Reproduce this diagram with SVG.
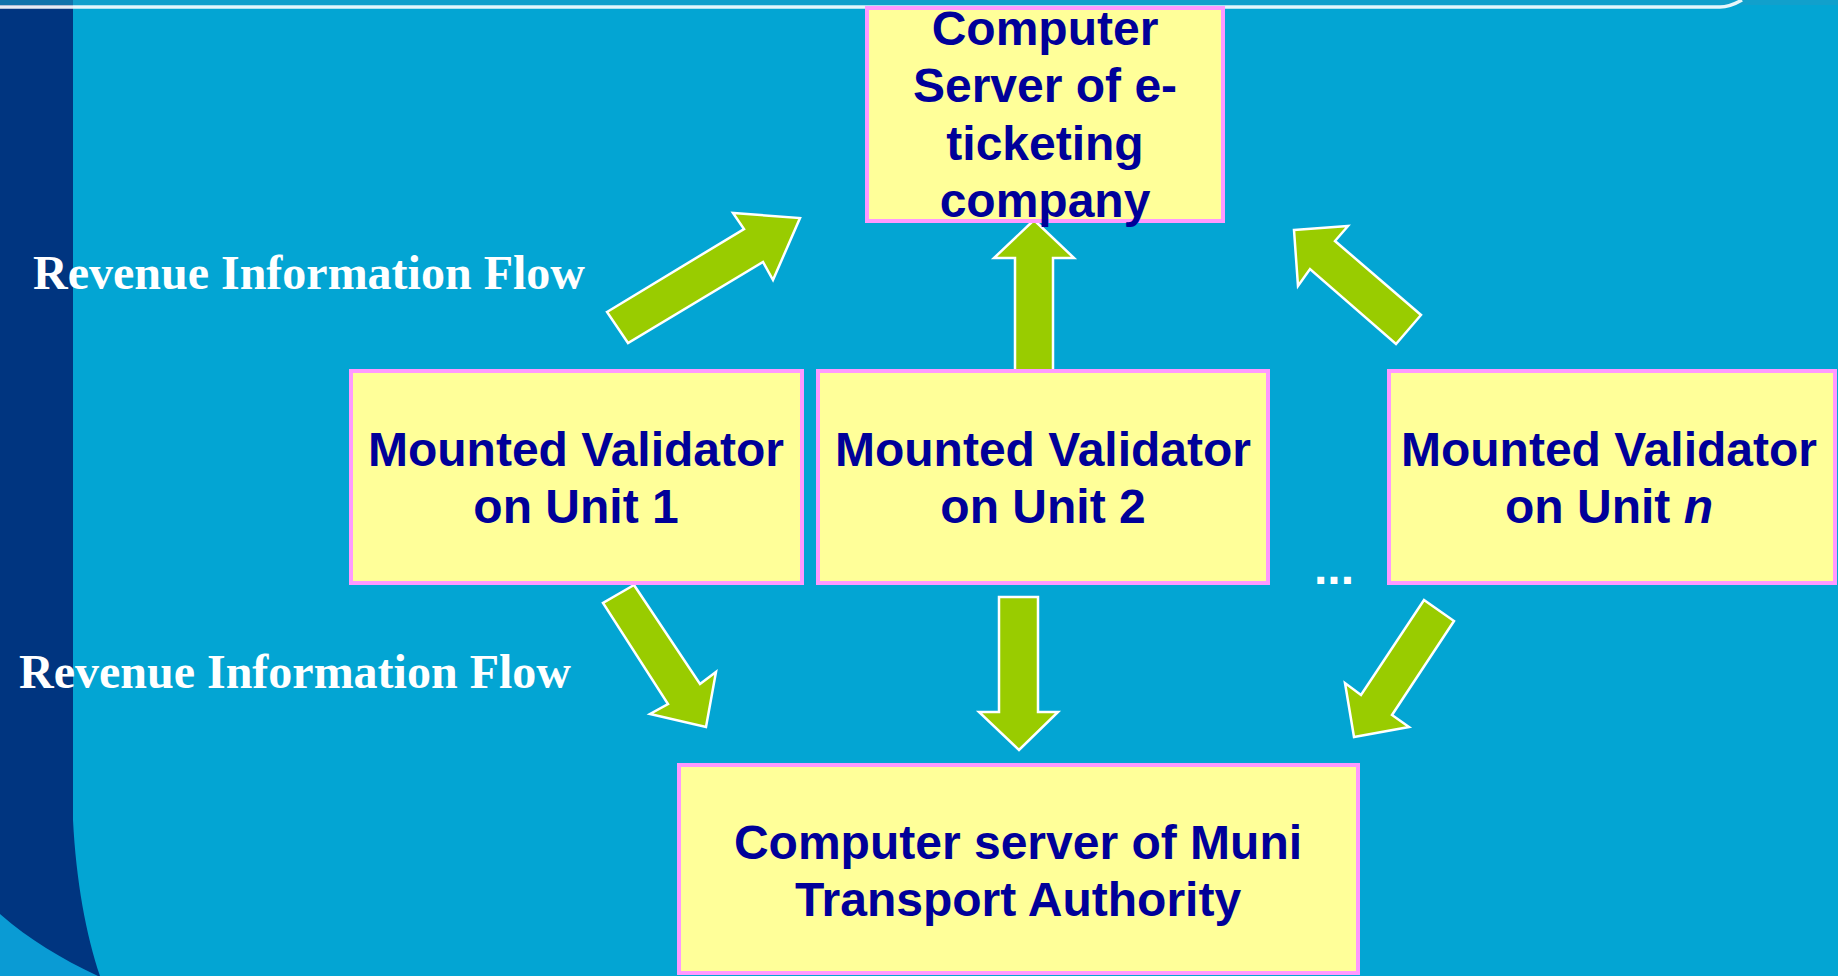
<svg xmlns="http://www.w3.org/2000/svg" width="1838" height="976" viewBox="0 0 1838 976">
  <defs>
    <style>
      .box { fill: #FFFF99; stroke: #FF99FF; stroke-width: 4; }
      .lbl { font-family: "Liberation Sans", Arial, sans-serif; font-weight: bold; font-size: 48px; fill: #000099; text-anchor: middle; }
      .flow { font-family: "Liberation Serif", "Times New Roman", serif; font-weight: bold; font-size: 48px; fill: #FFFFFF; }
      .arrow { fill: #99CC00; stroke: #FFFFFF; stroke-width: 2.5; stroke-linejoin: miter; }
    </style>
  </defs>

  <!-- background -->
  <rect x="0" y="0" width="1838" height="976" fill="#03A5D3"/>
  <path d="M0,0 H73 V820 C76,880 86,935 100,976 H0 Z" fill="#003580"/>
  <path d="M0,914 C30,940 60,958 98,976 H0 Z" fill="#0A9BD4"/>
  <rect x="0" y="0" width="1838" height="5" fill="#1A9CC8" opacity="0.6"/>
  <path d="M0,7 H1720 C1728,7 1735,4 1742,0" fill="none" stroke="#FFFFFF" stroke-width="3.5" opacity="0.9"/>

  <!-- connectors -->
  <g id="connectors">
    <polygon class="arrow" points="607,312 744,229 733,213 800,218 773,280 763,262 628,343"/>
    <polygon class="arrow" points="1034,220 1074,258 1053,258 1053,371 1015,371 1015,258 994,258"/>
    <polygon class="arrow" points="1294,230 1348,226 1335,241 1421,315 1396,344 1310,269 1298,286"/>
    <polygon class="arrow" points="634,585 603,603 668,704 650,714 706,727 716,672 700,684"/>
    <polygon class="arrow" points="999,597 1038,597 1038,712 1058,712 1019,750 979,712 999,712"/>
    <polygon class="arrow" points="1424,600 1454,621 1392,715 1409,727 1354,737 1345,683 1361,695"/>
  </g>

  <!-- nodes -->
  <g id="eticketing-server">
    <rect class="box" x="867" y="8" width="356" height="213"/>
    <text class="lbl" x="1045" y="45">Computer</text>
    <text class="lbl" x="1045" y="102">Server of e-</text>
    <text class="lbl" x="1045" y="160">ticketing</text>
    <text class="lbl" x="1045" y="217">company</text>
  </g>

  <g id="validator-1">
    <rect class="box" x="351" y="371" width="451" height="212"/>
    <text class="lbl" x="576" y="466">Mounted Validator</text>
    <text class="lbl" x="576" y="523">on Unit 1</text>
  </g>

  <g id="validator-2">
    <rect class="box" x="818" y="371" width="450" height="212"/>
    <text class="lbl" x="1043" y="466">Mounted Validator</text>
    <text class="lbl" x="1043" y="523">on Unit 2</text>
  </g>

  <g id="validator-n">
    <rect class="box" x="1389" y="371" width="446" height="212"/>
    <text class="lbl" x="1609" y="466">Mounted Validator</text>
    <text class="lbl" x="1609" y="523">on Unit <tspan font-style="italic">n</tspan></text>
  </g>

  <g id="ellipsis">
    <text x="1314" y="584" font-family="Liberation Sans, Arial, sans-serif" font-weight="bold" font-size="48" fill="#FFFFFF">...</text>
  </g>

  <g id="muni-server">
    <rect class="box" x="679" y="765" width="679" height="208"/>
    <text class="lbl" x="1018" y="859">Computer server of Muni</text>
    <text class="lbl" x="1018" y="916">Transport Authority</text>
  </g>

  <g id="flow-labels">
    <text class="flow" x="33" y="289">Revenue Information Flow</text>
    <text class="flow" x="19" y="688">Revenue Information Flow</text>
  </g>
</svg>
